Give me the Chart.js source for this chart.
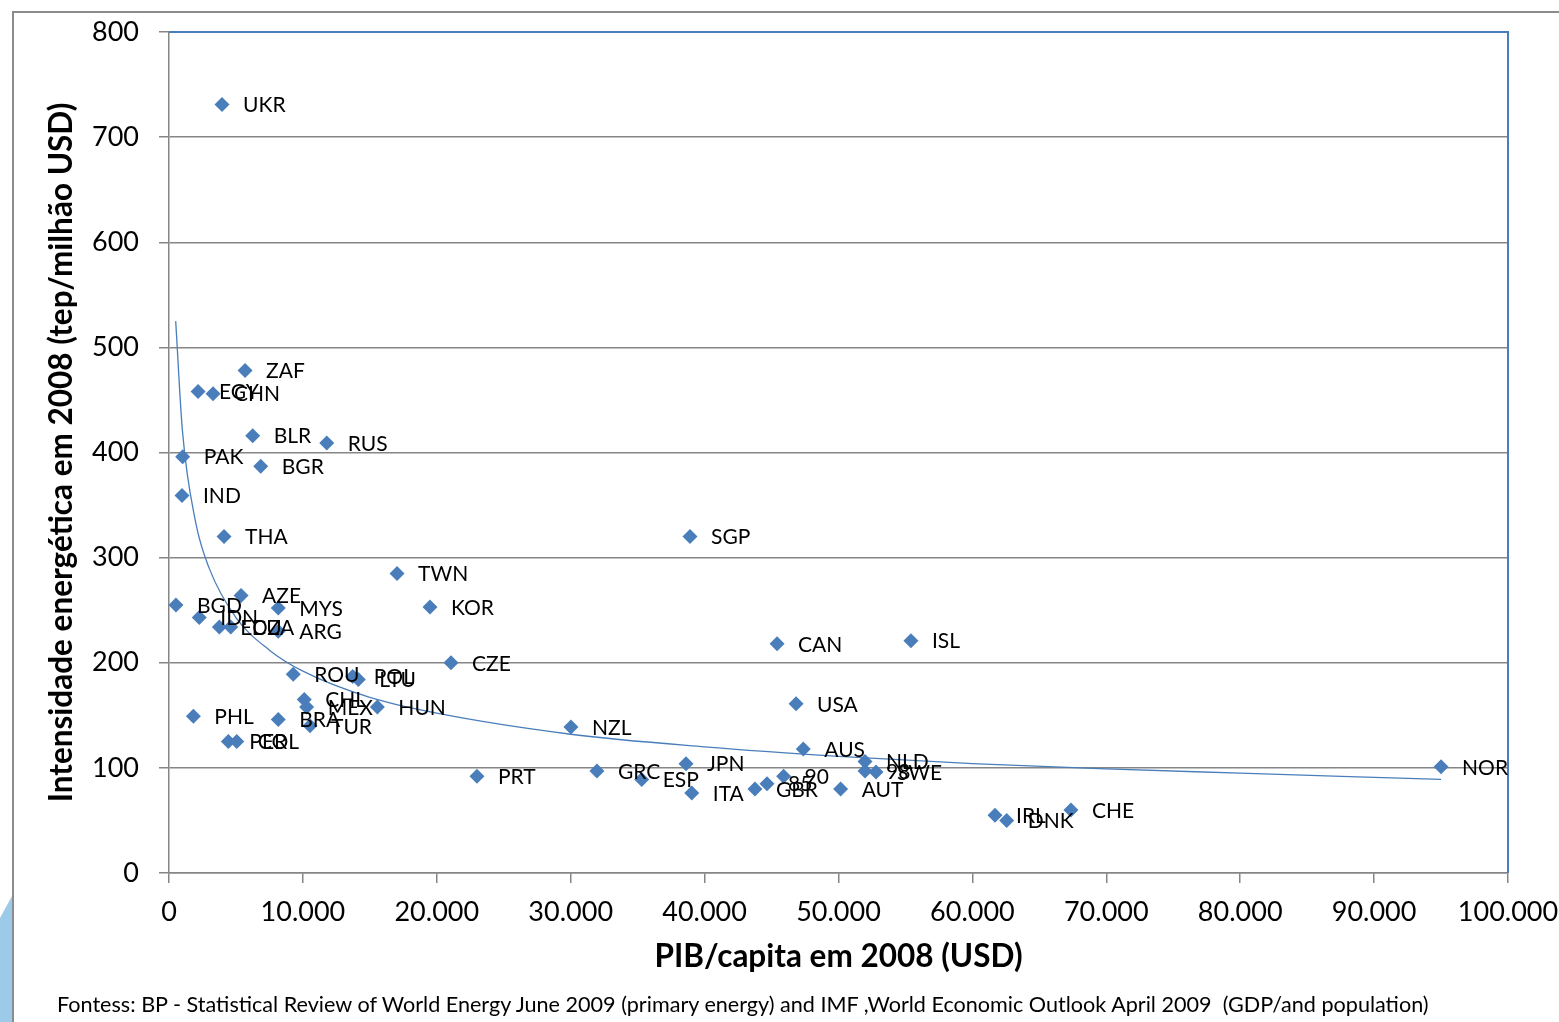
<!DOCTYPE html>
<html lang="pt">
<head>
  <meta charset="UTF-8">
  <title>Intensidade energética vs PIB/capita 2008</title>
  <script src="https://cdn.jsdelivr.net/npm/chart.js"></script>
  <style>
    html, body { margin: 0; padding: 0; background: #fff; }
    #wrap { position: relative; width: 1559px; height: 1022px; overflow: hidden; }
    #frameTop { position: absolute; left: 13px; top: 11px; width: 1546px; height: 0; border-top: 2px solid #8c8c8c; }
    #frameLeft { position: absolute; left: 12px; top: 11px; width: 0; height: 1011px; border-left: 2px solid #8c8c8c; }
    #deco { position: absolute; left: 0; top: 896px; width: 12px; height: 126px; background: #9ccbea;
            clip-path: polygon(0 22px, 12px 0, 12px 126px, 0 126px); }
    #fonte { position: absolute; left: 57px; top: 991px; font-family: Lato, "Noto Sans", sans-serif;
             font-size: 21.6px; color: #000; white-space: pre; }
    canvas { position: absolute; left: 0; top: 0; }
  </style>
</head>
<body>
  <div id="wrap">
    <canvas id="grafico" width="1559" height="1022"></canvas>
    <div id="frameTop"></div>
    <div id="frameLeft"></div>
    <div id="deco"></div>
    <div id="fonte">Fontess: BP - Statistical Review of World Energy June 2009 (primary energy) and IMF ,World Economic Outlook April 2009  (GDP/and population)</div>
  </div>

  <script>
    // paises (rotulos) e valores
    const paises = ['UKR', 'ZAF', 'EGY', 'CHN', 'BLR', 'RUS', 'PAK', 'BGR', 'IND', 'THA',
      'SGP', 'TWN', 'KOR', 'AZE', 'BGD', 'IDN', 'ECU', 'DZA', 'MYS', 'ARG',
      'ROU', 'POL', 'LTU', 'HUN', 'CHL', 'MEX', 'BRA', 'TUR', 'PHL', 'PER',
      'COL', 'CZE', 'CAN', 'ISL', 'USA', 'NZL', 'AUS', 'NLD', '98', 'SWE',
      'PRT', 'GRC', 'ESP', 'JPN', 'ITA', 'GBR', '85', '90', 'AUT', 'IRL',
      'DNK', 'CHE', 'NOR'];
    const pibCapita = [3960, 5680, 2170, 3290, 6250, 11780, 1020, 6850, 970, 4110,
      38910, 17030, 19490, 5380, 520, 2260, 3760, 4610, 8160, 8160,
      9280, 13720, 14140, 15560, 10100, 10280, 8160, 10530, 1820, 4430,
      5060, 21060, 45410, 55410, 46830, 30020, 47370, 51980, 51980, 52800,
      23000, 31960, 35300, 38610, 39040, 43760, 44660, 45900, 50160, 61690,
      62560, 67360, 95000];
    const intensidade = [731, 478, 458, 456, 416, 409, 396, 387, 359, 320,
      320, 285, 253, 264, 255, 243, 234, 234, 252, 230,
      189, 187, 184, 158, 165, 158, 146, 140, 149, 125,
      125, 200, 218, 221, 161, 139, 118, 106, 97, 96,
      92, 97, 89, 104, 76, 80, 85, 92, 80, 55,
      50, 60, 101];

    const tendX = [500, 1000, 2000, 3000, 5000, 7500, 10000, 15000, 20000, 30000, 40000, 50000, 60000, 70000, 80000, 95000];
    const tendY = [525, 421, 333, 290, 243, 212, 192, 167, 152, 132, 120, 111, 104, 99, 95, 89];

    const xTicks = [0, 10000, 20000, 30000, 40000, 50000, 60000, 70000, 80000, 90000, 100000];
    const yTicks = [0, 100, 200, 300, 400, 500, 600, 700, 800];

    const azul = '#4a7ebb';
    const cinza = '#868686';
    const fonte = 'Lato, "Noto Sans", sans-serif';

    function milhar(v) {
      return String(v).replace(/\B(?=(\d{3})+(?!\d))/g, '.');
    }

    const pontos = pibCapita.map((x, i) => ({ x: x, y: intensidade[i] }));
    const tendencia = tendX.map((x, i) => ({ x: x, y: tendY[i] }));

    // rotulos ao lado de cada ponto
    const rotulos = {
      id: 'rotulos',
      afterDatasetsDraw(chart) {
        const ctx = chart.ctx;
        const meta = chart.getDatasetMeta(1);
        ctx.save();
        ctx.font = '21px ' + fonte;
        ctx.fillStyle = '#000';
        ctx.textBaseline = 'middle';
        ctx.textAlign = 'left';
        meta.data.forEach((p, i) => {
          ctx.fillText(paises[i], p.x + 21, p.y + 1);
        });
        ctx.restore();
      }
    };

    // borda azul em cima e a direita da area do grafico
    const borda = {
      id: 'borda',
      beforeDatasetsDraw(chart) {
        const { ctx, chartArea: a } = chart;
        ctx.save();
        ctx.strokeStyle = azul;
        ctx.lineWidth = 2;
        ctx.beginPath();
        ctx.moveTo(a.left, a.top);
        ctx.lineTo(a.right, a.top);
        ctx.lineTo(a.right, a.bottom);
        ctx.stroke();
        ctx.restore();
      }
    };

    // tira o espaco extra que o Chart.js reserva para os rotulos das pontas
    function semSobra(s) {
      s.paddingLeft = 0;
      s.paddingRight = 0;
      s.paddingTop = 0;
      s.paddingBottom = 0;
    }

    new Chart(document.getElementById('grafico'), {
      type: 'scatter',
      data: {
        datasets: [
          {
            label: 'Tendência',
            data: tendencia,
            showLine: true,
            pointRadius: 0,
            borderColor: azul,
            borderWidth: 1.3,
            cubicInterpolationMode: 'monotone'
          },
          {
            label: 'Países',
            data: pontos,
            pointStyle: 'rectRot',
            pointRadius: 7.5,
            backgroundColor: azul,
            borderColor: azul,
            borderWidth: 0
          }
        ]
      },
      plugins: [borda, rotulos],
      options: {
        responsive: false,
        animation: false,
        layout: { padding: { top: 32, right: 51, bottom: 0, left: 0 } },
        plugins: {
          legend: { display: false },
          tooltip: { enabled: false }
        },
        scales: {
          x: {
            type: 'linear',
            min: 0,
            max: 100000,
            afterBuildTicks(s) { s.ticks = xTicks.map(v => ({ value: v })); },
            afterFit(s) { s.height = 149; semSobra(s); },
            ticks: {
              color: '#000',
              font: { family: fonte, size: 27 },
              padding: 13,
              maxRotation: 0,
              callback: v => milhar(v)
            },
            grid: { drawOnChartArea: false, color: cinza, tickLength: 10, lineWidth: 1.5 },
            border: { color: cinza, width: 1.5 },
            title: {
              display: true,
              text: 'PIB/capita em 2008 (USD)',
              color: '#000',
              font: { family: fonte, size: 31.5, weight: 'bold' },
              padding: { top: 0, bottom: 46 }
            }
          },
          y: {
            min: 0,
            max: 800,
            afterBuildTicks(s) { s.ticks = yTicks.map(v => ({ value: v })); },
            afterFit(s) { s.width = 169; semSobra(s); },
            ticks: {
              color: '#000',
              font: { family: fonte, size: 27 },
              padding: 20
            },
            grid: { color: cinza, tickLength: 10, lineWidth: 1.5 },
            border: { color: cinza, width: 1.5 },
            title: {
              display: true,
              text: 'Intensidade energética em 2008 (tep/milhão USD)',
              color: '#000',
              font: { family: fonte, size: 31.5, weight: 'bold' },
              padding: { top: 43, bottom: 0 }
            }
          }
        }
      }
    });
  </script>
</body>
</html>
